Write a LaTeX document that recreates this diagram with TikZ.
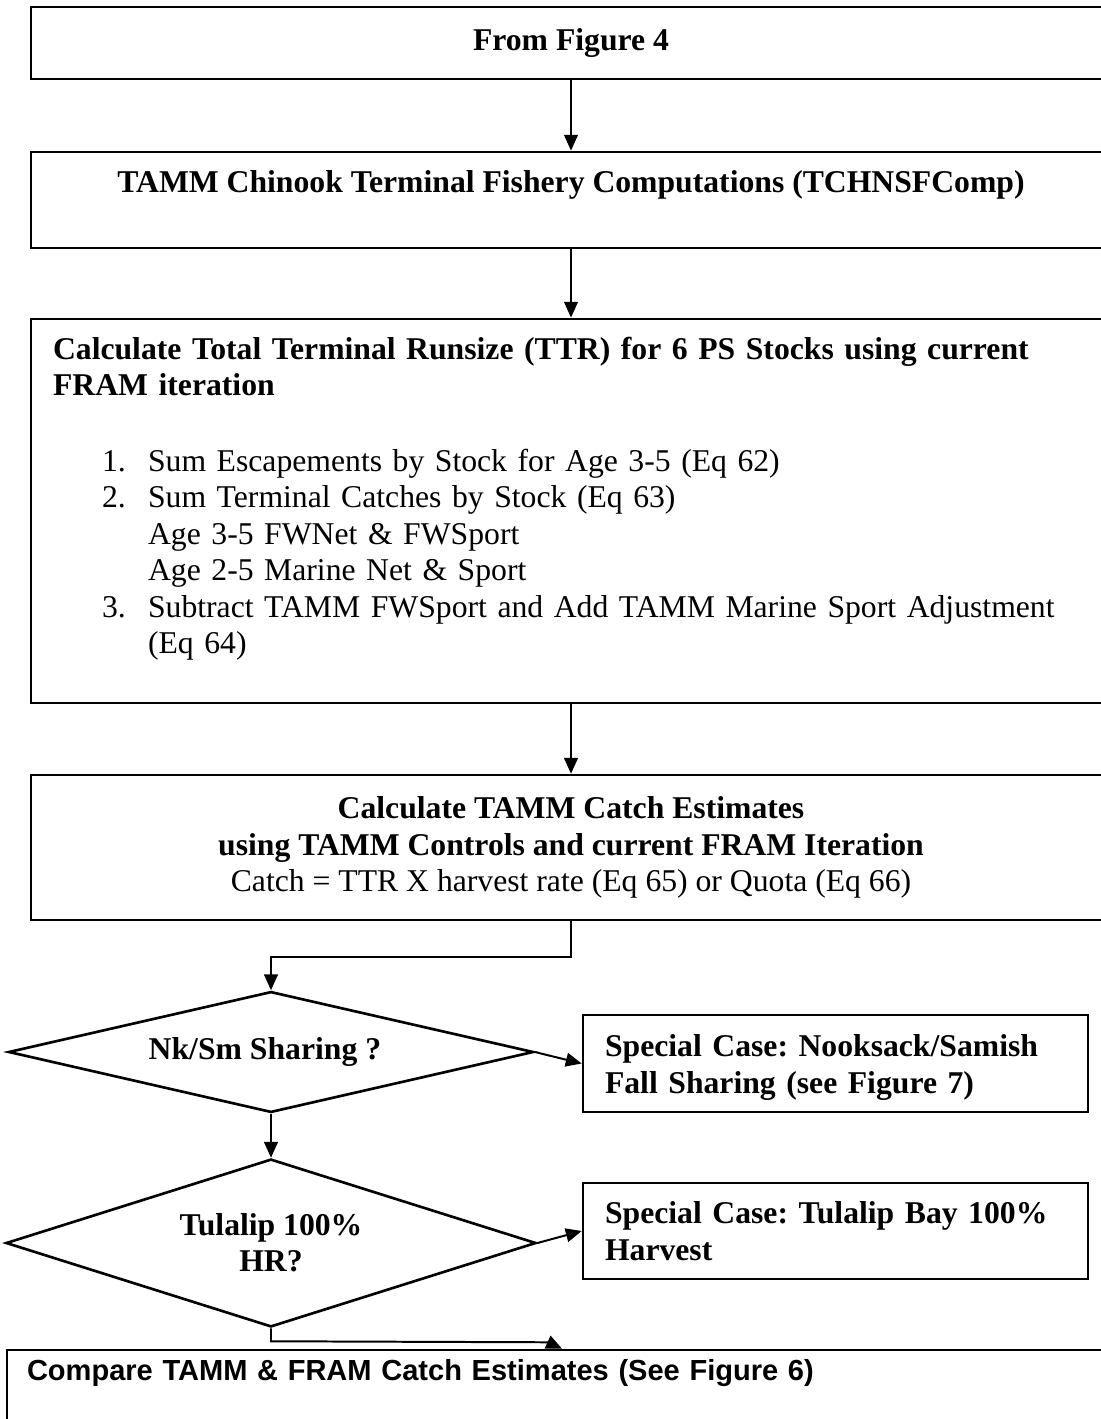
\documentclass[tikz,border=0pt]{standalone}
\usepackage{fontspec}
\setmainfont{Liberation Serif}
\setsansfont{Liberation Sans}
\frenchspacing
\usetikzlibrary{shapes.geometric,arrows.meta}
\tikzset{
  stepbox/.style={rectangle, draw, line width=1pt, inner sep=0pt,
    font=\fontsize{12pt}{13.8pt}\selectfont\bfseries},
  decision/.style={diamond, draw, line width=1pt, inner sep=0pt, align=center,
    font=\fontsize{12pt}{13.8pt}\selectfont\bfseries},
  flow/.style={line width=0.75pt, -{Triangle[length=6pt,width=5.2pt]}}
}
\begin{document}
\begin{tikzpicture}[x=0.3788pt,y=-0.3788pt]
\useasboundingbox (0,0) rectangle (1101,1419);
\clip (0,0) rectangle (1101,1419);
\node [stepbox, minimum width=409.1pt, minimum height=27.3pt] (fig4) at (571,43) {From Figure 4};
\node [stepbox, align=center, minimum width=409.1pt, minimum height=36.4pt] (tchnsf) at (571,200)
{TAMM Chinook Terminal Fishery Computations (TCHNSFComp)\\\mbox{}};
\node [stepbox, align=left, text width=392.4pt, inner xsep=8.35pt, minimum height=145.5pt] (ttr) at (571,511)
{Calculate Total Terminal Runsize (TTR) for 6 PS Stocks using current\\
FRAM iteration\\[15pt]
\mdseries\hspace*{18.6pt}\makebox[17.4pt][l]{1.}Sum Escapements by Stock for Age 3-5 (Eq 62)\\
\hspace*{18.6pt}\makebox[17.4pt][l]{2.}Sum Terminal Catches by Stock (Eq 63)\\
\hspace*{36pt}Age 3-5 FWNet \& FWSport\\
\hspace*{36pt}Age 2-5 Marine Net \& Sport\\
\hspace*{18.6pt}\makebox[17.4pt][l]{3.}Subtract TAMM FWSport and Add TAMM Marine Sport Adjustment\\
\hspace*{36pt}(Eq 64)\rule[-12pt]{0pt}{0pt}};
\node [stepbox, align=center, minimum width=409.1pt, minimum height=54.9pt] (catch) at (571,847.5)
{Calculate TAMM Catch Estimates\\
using TAMM Controls and current FRAM Iteration\\
\mdseries Catch = TTR X harvest rate (Eq 65) or Quota (Eq 66)};
\node [decision, aspect=4.34, minimum width=198.9pt, minimum height=45.8pt] (nksm) at (271,1052)
{Nk/Sm Sharing ?\hspace*{4.6pt}};
\node [stepbox, align=left, text width=174.6pt, inner xsep=8.35pt, minimum height=36.7pt] (nkcase) at (835.5,1063.5)
{\rule{0pt}{11.3pt}Special Case: Nooksack/Samish\\Fall Sharing (see Figure 7)};
\node [decision, aspect=3.16, minimum width=200.8pt, minimum height=63.6pt] (tulalip) at (271,1243)
{Tulalip 100\%\\HR?};
\node [stepbox, align=left, text width=174.6pt, inner xsep=8.35pt, minimum height=36.4pt] (tulcase) at (835.5,1231)
{Special Case: Tulalip Bay 100\%\\Harvest};
\node [stepbox, align=left, text width=405.3pt, inner xsep=7.6pt, minimum height=41.7pt,
  font=\sffamily\bfseries\fontsize{11pt}{13pt}\selectfont] (compare) at (562,1405)
{Compare TAMM \& FRAM Catch Estimates (See Figure 6)\rule[-26.7pt]{0pt}{0pt}};
\draw (fig4)[flow] -- (tchnsf);
\draw (tchnsf)[flow] -- (ttr);
\draw (ttr)[flow] -- (catch);
\draw (catch.south)[flow] -- ++(0,36) -| (nksm.north);
\draw (nksm.east)[flow] -- (nkcase.west);
\draw (nksm.south)[flow] -- (tulalip.north);
\draw (tulalip.east)[flow] -- (tulcase.west);
\draw (tulalip.south)[flow] -- ++(0,13) -- ++(277,1) -- (compare.north);
\end{tikzpicture}
\end{document}
